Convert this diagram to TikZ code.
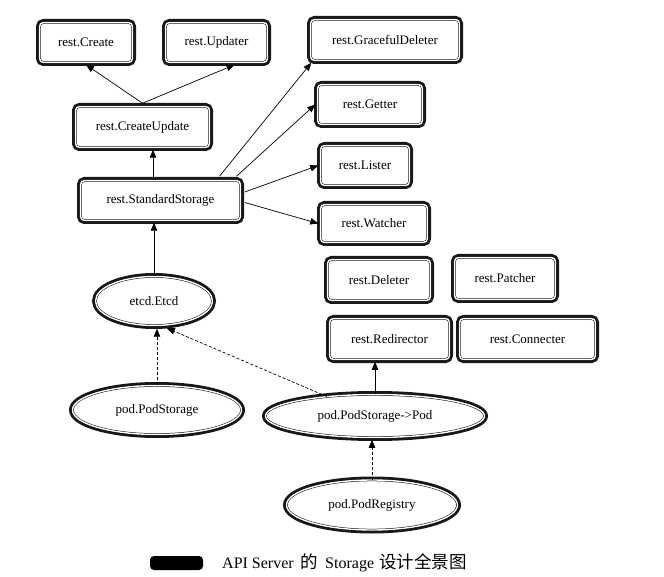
\documentclass[tikz,border=0pt]{standalone}
\usepackage{fontspec}
\setmainfont{Liberation Serif}
\newfontfamily\cjk{Noto Sans CJK SC}
\usetikzlibrary{arrows.meta,shapes.geometric}
\begin{document}
\begin{tikzpicture}[x=1pt,y=-1pt,
 dbl/.style={fill=white, draw=black, line width=0.5pt, double=white, double distance=1.4pt,
   preaction={draw=black!90, line width=7pt}, font=\fontsize{13}{15}\selectfont, inner sep=0pt},
 box/.style={dbl, rectangle, rounded corners=4pt},
 oval/.style={dbl, ellipse},
 arr/.style={-{Triangle[length=8pt,width=6.5pt]}, line width=0.7pt},
 dsh/.style={arr, dash pattern=on 3pt off 2pt}]
\useasboundingbox (0,0) rectangle (664,577);
% rectangles
\node[box, minimum width=93pt, minimum height=40pt] (create) at (86,42.5) {rest.Create};
\node[box, minimum width=102pt, minimum height=40pt] (upd) at (216.5,42.5) {rest.Updater};
\node[box, minimum width=134pt, minimum height=41pt] (cu) at (142.5,127) {rest.CreateUpdate};
\node[box, minimum width=160pt, minimum height=40pt] (ss) at (160.5,200.5) {rest.StandardStorage};
\node[box, minimum width=149pt, minimum height=41pt] (gd) at (385,40) {rest.GracefulDeleter};
\node[box, minimum width=105pt, minimum height=40pt] (get) at (370,104.5) {rest.Getter};
\node[box, minimum width=89pt, minimum height=40pt] (lst) at (365,165.5) {rest.Lister};
\node[box, minimum width=107pt, minimum height=38pt] (wat) at (374,223.5) {rest.Watcher};
\node[box, minimum width=103pt, minimum height=41pt] (del) at (379,280) {rest.Deleter};
\node[box, minimum width=101pt, minimum height=42pt] (pat) at (505,278.5) {rest.Patcher};
\node[box, minimum width=120pt, minimum height=41pt] (red) at (389.5,339) {rest.Redirector};
\node[box, minimum width=136pt, minimum height=41pt] (con) at (527.5,339) {rest.Connecter};
% ellipses
\node[oval, minimum width=117pt, minimum height=49pt] (etcd) at (154,301) {etcd.Etcd};
\node[oval, minimum width=169pt, minimum height=49pt] (ps) at (157,410) {pod.PodStorage};
\node[oval, minimum width=219pt, minimum height=43pt] (pod) at (375,416) {pod.PodStorage->Pod};
\node[oval, minimum width=171pt, minimum height=50pt] (reg) at (372,505) {pod.PodRegistry};
% edges
\coordinate (cutop) at ([yshift=3pt]cu.north);
\draw[arr] (cutop) -- ([yshift=-2pt]create.south);
\draw[arr] (cutop) -- ([xshift=18pt,yshift=-2pt]upd.south);
\draw[arr] ([xshift=-7.5pt]ss.north) -- ([xshift=-7.5pt,yshift=-2pt]ss.north |- cu.south);
\draw[arr] (etcd.north) -- ([yshift=-2pt]etcd.north |- ss.south);
\draw[arr] ([xshift=59pt,yshift=4pt]ss.north) -- ([xshift=1pt,yshift=-2pt]gd.south west);
\draw[arr] ([xshift=76pt,yshift=4pt]ss.north) -- ([xshift=-2pt]get.west);
\draw[arr] ([xshift=4pt,yshift=8.5pt]ss.east) -- ([xshift=-2pt]lst.west);
\draw[arr] ([xshift=4pt,yshift=-2pt]ss.east) -- ([xshift=-2pt]wat.west);
\draw[arr] (pod.north) -- ([yshift=-2pt]pod.north |- red.south);
\draw[dsh] (reg.north) -- ([yshift=-2pt]reg.north |- pod.south);
\draw[dsh] (ps.north) -- ([yshift=-3pt]ps.north |- etcd.south);
\draw[dsh] (pod.158) -- ([yshift=-3pt]etcd.-62);
% caption
\node[fill=black, rounded corners=4pt, minimum width=53pt, minimum height=14pt, inner sep=0pt] (blob) at (176.5,563) {};
\node[font=\fontsize{16}{18}\selectfont, inner sep=0pt, anchor=base west] (cap) at (222,568)
  {API Server\hspace{7pt}{\cjk\fontsize{17.5}{18}\selectfont 的}\hspace{7pt}Storage\hspace{5pt}{\cjk\fontsize{17.5}{18}\selectfont 设计全景图}};
\end{tikzpicture}
\end{document}
